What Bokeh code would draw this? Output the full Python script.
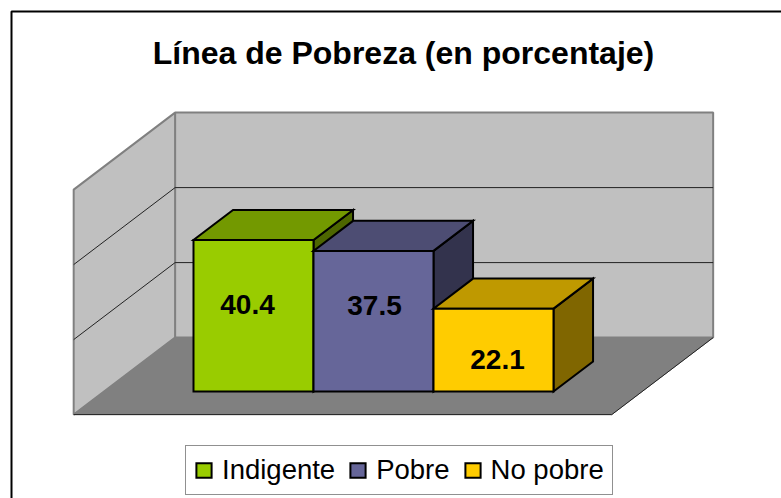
from bokeh.plotting import figure
from bokeh.models import Range1d, Legend, LegendItem, Label, BoxAnnotation
from bokeh.embed import file_html
from bokeh.resources import INLINE

# ---- data ----
title = "Línea de Pobreza (en porcentaje)"
categories = ["Indigente", "Pobre", "No pobre"]
values = [40.4, 37.5, 22.1]
value_labels = ["40.4", "37.5", "22.1"]
axis_ticks = [0, 20, 40, 60]

front_colors = ["#99CC00", "#666699", "#FFCC00"]
top_colors = ["#739900", "#4D4D73", "#BF9900"]
side_colors = ["#4D6600", "#33334D", "#806600"]

FONT = "Liberation Sans"
W, H = 781, 498
PX_PER_CAT, PX_PER_VAL = 120.0, 3.75

# data space: x in category widths (0 = left of first bar), y in percent (0 = base of bars)
x0 = -193 / PX_PER_CAT
y_top = 391 / PX_PER_VAL
p = figure(width=W, height=H, output_backend="svg", toolbar_location=None,
           x_range=Range1d(x0, x0 + W / PX_PER_CAT),
           y_range=Range1d(y_top - H / PX_PER_VAL, y_top),
           min_border=0, outline_line_color=None, background_fill_color="white",
           border_fill_color="white")
p.axis.visible = False
p.grid.visible = False

DX, DY = 0.845, 20.53      # full floor depth offset in data units
BAR_DEPTH = 0.39           # bar depth as a share of the floor depth
BAR_FRONT = 0.30           # depth at which the bars stand
GAP = 0.745                # gap on either side of the bars
n = len(categories)
plot_w = n + 2 * GAP - 0.006


def proj(cx, v, depth):
    """cx: categories from left of plot box, v: percent, depth: 0 front .. 1 back"""
    return (cx - GAP + (depth - BAR_FRONT) * DX,
            v + (depth - BAR_FRONT) * DY)


def face(pts, **kw):
    xy = [proj(*q) for q in pts]
    return p.patch([a for a, _ in xy], [b for _, b in xy], **kw)


vmax = axis_ticks[-1]
WALL = "#C0C0C0"
EDGE = "#808080"
# back wall, left wall, floor
face([(0, 0, 1), (plot_w, 0, 1), (plot_w, vmax, 1), (0, vmax, 1)],
     fill_color=WALL, line_color=EDGE, line_width=2)
face([(0, 0, 0), (0, 0, 1), (0, vmax, 1), (0, vmax, 0)],
     fill_color=WALL, line_color=EDGE, line_width=2)
face([(0, 0, 0), (plot_w, 0, 0), (plot_w, 0, 1), (0, 0, 1)],
     fill_color="#808080", line_color="#808080", line_width=1)
# dark floor edges
a, b, c = proj(0, 0, 0), proj(plot_w, 0, 0), proj(plot_w, 0, 1)
p.line([a[0], b[0], c[0]], [a[1], b[1], c[1]], line_color="#222222", line_width=1)
# gridlines
for t in axis_ticks[1:-1]:
    a, b, c = proj(0, t, 0), proj(0, t, 1), proj(plot_w, t, 1)
    p.line([a[0], b[0], c[0]], [a[1], b[1], c[1]], line_color="#222222", line_width=1)

# screen nudges of the value labels relative to the bar front's centre
label_dx = [-6, 1, 4]
label_dy = [11, 16, -9]

# bars
items = []
for i, (cat, v) in enumerate(zip(categories, values)):
    l, r = GAP + i, GAP + i + 1
    f0, f1 = BAR_FRONT, BAR_FRONT + BAR_DEPTH
    kw = dict(line_color="black", line_width=2, line_join="miter")
    face([(r, 0, f0), (r, 0, f1), (r, v, f1), (r, v, f0)], fill_color=side_colors[i], **kw)
    face([(l, v, f0), (r, v, f0), (r, v, f1), (l, v, f1)], fill_color=top_colors[i], **kw)
    fr = face([(l, 0, f0), (r, 0, f0), (r, v, f0), (l, v, f0)], fill_color=front_colors[i], **kw)
    items.append(LegendItem(label=cat, renderers=[fr]))
    xc, _ = proj(l + 0.5, 0, f0)
    p.add_layout(Label(x=xc, y=v / 2, x_offset=label_dx[i], y_offset=label_dy[i],
                       text=value_labels[i], text_align="center",
                       text_baseline="middle", text_font=FONT, text_font_style="bold",
                       text_font_size="28px", text_color="black"))

p.add_layout(Label(x=x0 + 403 / PX_PER_CAT, y=y_top - 52 / PX_PER_VAL, text=title,
                   text_align="center", text_baseline="middle", text_font=FONT,
                   text_font_style="bold", text_font_size="32px", text_color="black"))

legend = Legend(items=items, orientation="horizontal", location=(185, 3),
                margin=0, padding=8, spacing=13, label_standoff=9,
                glyph_width=19, glyph_height=18, label_height=18,
                label_text_font=FONT, label_text_font_size="27.5px", label_text_color="black",
                border_line_color="#222222", border_line_width=1,
                background_fill_color="white", background_fill_alpha=1)
p.add_layout(legend)

# chart frame: the right and bottom sides lie beyond the photographed page
p.add_layout(BoxAnnotation(left=11, top=H - 11, right=W + 50, bottom=-50,
                           left_units="screen", top_units="screen",
                           right_units="screen", bottom_units="screen",
                           fill_alpha=0, line_color="black", line_width=2, line_alpha=1))

open("out.html", "w").write(file_html(p, INLINE))
